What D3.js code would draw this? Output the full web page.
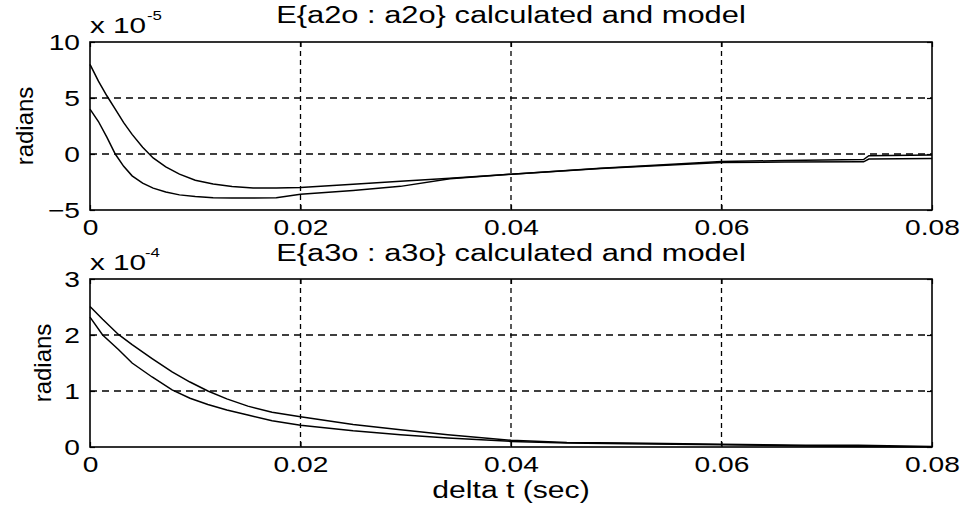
<!DOCTYPE html>
<html>
<head>
<meta charset="utf-8">
<script src="https://cdn.jsdelivr.net/npm/d3@7"></script>
<style>
  body { margin: 0; background: #fff; }
  svg { display: block; font-family: "Liberation Sans", Arial, sans-serif; }
  .tick line { stroke: #000; stroke-width: 1.2; }
  .tick text { font-size: 22px; fill: #000; }
</style>
</head>
<body>
<svg id="chart" width="966" height="510"></svg>
<script>
/************************************************ Data ***********************************/

var xTicks = [0, 0.02, 0.04, 0.06, 0.08];
var a2Ticks = [-5, 0, 5, 10];
var a3Ticks = [0, 1, 2, 3];

// E{a2o : a2o}, values in units of 1e-5 rad
var a2Time = [0, 0.0008, 0.0016, 0.0024, 0.0032, 0.0040, 0.0050, 0.0060, 0.0072, 0.0085, 0.0100,
              0.0117, 0.0135, 0.0155, 0.0177, 0.0200, 0.0250, 0.0295, 0.0342, 0.0400, 0.0485,
              0.0600, 0.0660, 0.0735, 0.0740, 0.0800];
var a2Calculated = [8.0, 6.5, 5.2, 4.0, 2.8, 1.75, 0.6, -0.35, -1.15, -1.8, -2.35,
                    -2.68, -2.9, -3.04, -3.04, -2.98, -2.7, -2.44, -2.17, -1.8, -1.27,
                    -0.68, -0.58, -0.5, -0.15, -0.1];
var a2Model = [4.0, 2.9, 1.5, 0.0, -1.1, -1.95, -2.6, -3.05, -3.4, -3.65, -3.8,
               -3.9, -3.92, -3.92, -3.9, -3.6, -3.25, -2.89, -2.2, -1.8, -1.3,
               -0.76, -0.72, -0.7, -0.45, -0.4];

// E{a3o : a3o}, values in units of 1e-4 rad
var a3Time = [0, 0.0012, 0.0027, 0.0040, 0.0059, 0.0078, 0.0095, 0.0112, 0.0130, 0.0150, 0.0173,
              0.0200, 0.0250, 0.0295, 0.0340, 0.0400, 0.0453, 0.0510, 0.0600, 0.0680, 0.0730, 0.0800];
var a3Calculated = [2.51, 2.28, 2.01, 1.83, 1.58, 1.34, 1.16, 1.0, 0.86, 0.73, 0.62,
                    0.54, 0.40, 0.31, 0.22, 0.12, 0.08, 0.07, 0.05, 0.03, 0.03, 0.01];
var a3Model = [2.32, 2.0, 1.74, 1.50, 1.25, 1.02, 0.87, 0.76, 0.66, 0.57, 0.47,
               0.39, 0.29, 0.22, 0.16, 0.10, 0.07, 0.06, 0.04, 0.02, 0.01, 0.0];

/************************************************ Helpers ***********************************/

var svg = d3.select('#chart');

// old matlab text is wide, stretch the glyphs horizontally
function stretch(k) {
    return function () {
        var w = this.getComputedTextLength();
        d3.select(this).attr('textLength', w * k).attr('lengthAdjust', 'spacingAndGlyphs');
    };
}

function addText(x, y, str, size, k, anchor) {
    return svg.append('text')
        .attr('x', x).attr('y', y)
        .attr('text-anchor', anchor || 'start')
        .style('font-size', size + 'px')
        .text(str)
        .each(stretch(k));
}

var xFmt = function (d) { return d === 0 ? '0' : d3.format('.2f')(d); };

/************************************************ Draw one panel ***********************************/

function panel(p) {
    var x = d3.scaleLinear().domain([0, 0.08]).range([90, 932]);
    var y = d3.scaleLinear().domain(p.yDomain).range([p.bottom, p.top]);
    var g = svg.append('g');

    // dashed grid
    g.selectAll('.gx').data(xTicks.slice(1, -1)).enter().append('line')
        .attr('x1', x).attr('x2', x).attr('y1', p.top).attr('y2', p.bottom)
        .attr('stroke', '#000').attr('stroke-width', 1.3).attr('stroke-dasharray', '5,4');
    g.selectAll('.gy').data(p.yTicks.slice(1, -1)).enter().append('line')
        .attr('y1', y).attr('y2', y).attr('x1', 90).attr('x2', 932)
        .attr('stroke', '#000').attr('stroke-width', 1.3).attr('stroke-dasharray', '7,5');

    // axes with inward ticks
    var xa = g.append('g').attr('transform', 'translate(0,' + p.bottom + ')')
        .call(d3.axisBottom(x).tickValues(xTicks).tickFormat(xFmt).tickSizeInner(-5).tickSizeOuter(0).tickPadding(9));
    var ya = g.append('g').attr('transform', 'translate(90,0)')
        .call(d3.axisLeft(y).tickValues(p.yTicks).tickFormat(d3.format('d')).tickSizeInner(-5).tickSizeOuter(0).tickPadding(10));
    g.append('g').attr('transform', 'translate(0,' + p.top + ')')
        .call(d3.axisTop(x).tickValues(xTicks).tickFormat('').tickSizeInner(-5).tickSizeOuter(0));
    g.append('g').attr('transform', 'translate(932,0)')
        .call(d3.axisRight(y).tickValues(p.yTicks).tickFormat('').tickSizeInner(-5).tickSizeOuter(0));
    g.selectAll('.domain').remove();
    xa.selectAll('text').style('font-family', null).each(stretch(1.28));
    ya.selectAll('text').style('font-family', null).each(stretch(1.28));

    // curves
    var line = d3.line().x(function (d) { return x(d[0]); }).y(function (d) { return y(d[1]); });
    [p.calc, p.model].forEach(function (vals) {
        g.append('path')
            .datum(p.time.map(function (t, i) { return [t, vals[i]]; }))
            .attr('d', line)
            .attr('fill', 'none').attr('stroke', '#000').attr('stroke-width', 1.5);
    });

    // frame
    g.append('rect').attr('x', 90).attr('y', p.top).attr('width', 842).attr('height', p.bottom - p.top)
        .attr('fill', 'none').attr('stroke', '#000').attr('stroke-width', 1.6);

    // titles and labels
    addText(511, p.titleY, p.title, 23, 1.34, 'middle');
    addText(90, p.expY, 'x 10', 22, 1.35);
    addText(p.supX, p.expY - 13, p.sup, 12, 1.4);
    svg.append('text')
        .attr('transform', 'translate(' + p.ylabX + ',' + (p.top + p.bottom) / 2 + ') rotate(-90)')
        .attr('text-anchor', 'middle').style('font-size', '24px')
        .text('radians');
}

panel({
    top: 42, bottom: 210, yDomain: [-5, 10], yTicks: a2Ticks,
    time: a2Time, calc: a2Calculated, model: a2Model,
    title: 'E{a2o : a2o} calculated and model', titleY: 23,
    expY: 33, sup: '-5', supX: 147, ylabX: 33
});

panel({
    top: 279, bottom: 447, yDomain: [0, 3], yTicks: a3Ticks,
    time: a3Time, calc: a3Calculated, model: a3Model,
    title: 'E{a3o : a3o} calculated and model', titleY: 261,
    expY: 270, sup: '-4', supX: 145, ylabX: 51
});

addText(511, 498, 'delta t (sec)', 23, 1.31, 'middle');
</script>
</body>
</html>
